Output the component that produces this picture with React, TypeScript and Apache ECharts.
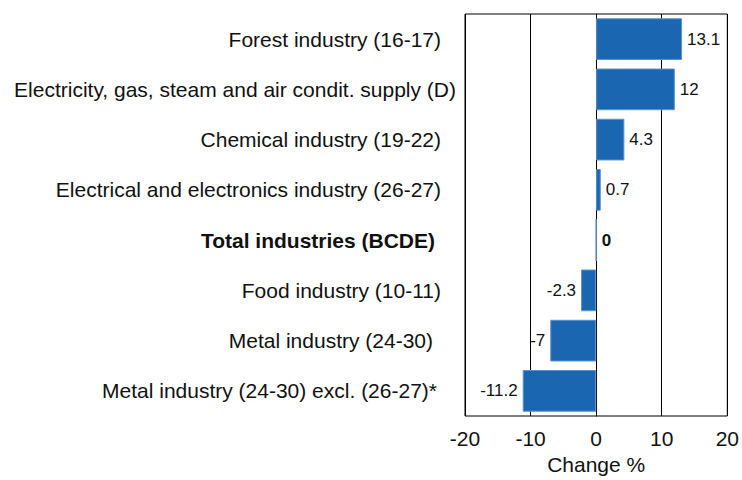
import React, { useEffect, useRef } from "react";
import * as echarts from "echarts";

const categories = [
  "Forest industry (16-17)",
  "Electricity, gas, steam and air condit. supply (D)",
  "Chemical industry (19-22)",
  "Electrical and electronics industry (26-27)",
  "Total industries (BCDE)",
  "Food industry (10-11)",
  "Metal industry (24-30)",
  "Metal industry (24-30) excl. (26-27)*",
];
const values = [13.1, 12, 4.3, 0.7, 0, -2.3, -7, -11.2];
const boldCategory = "Total industries (BCDE)";
const axisName = "Change %";

export default function App() {
  const ref = useRef<HTMLDivElement>(null);
  useEffect(() => {
    if (!ref.current) return;
    const chart = echarts.init(ref.current, undefined, { renderer: "svg" });
    const font = "'Liberation Sans', Arial, sans-serif";
    // per-label style keys (label alignment as in the original)
    const labelStyleKey = ["n", "w", "n", "n", "b", "n", "m", "s"];
    const base = { color: "#111", fontSize: 21, fontFamily: font };
    chart.setOption({
      animation: false,
      backgroundColor: "#ffffff",
      textStyle: { fontFamily: font },
      grid: { left: 465, right: 9, top: 14, bottom: 60, containLabel: false, show: true, borderColor: "#000", borderWidth: 1 },
      xAxis: {
        type: "value",
        min: -20,
        max: 20,
        interval: 10,
        axisLine: { show: false },
        axisTick: { show: false },
        splitLine: { show: true, lineStyle: { color: "#000", width: 1 } },
        axisLabel: { color: "#111", fontSize: 21, margin: 12, fontFamily: font },
        name: axisName,
        nameLocation: "middle",
        nameGap: 38,
        nameTextStyle: { color: "#111", fontSize: 21, fontFamily: font },
      },
      yAxis: {
        type: "category",
        data: categories,
        inverse: true,
        axisLine: { show: true, lineStyle: { color: "#000" } },
        axisTick: { show: false },
        axisLabel: {
          color: "#111",
          fontSize: 21,
          margin: 9,
          fontFamily: font,
          formatter: (v: string, i: number) => `{${labelStyleKey[i] || "n"}|${v}}`,
          rich: {
            n: { ...base, padding: [0, 15, 0, 0] },
            w: { ...base, padding: [0, 0, 0, 0] },
            b: { ...base, fontWeight: "bold", padding: [0, 21, 0, 0] },
            m: { ...base, padding: [0, 23, 0, 0] },
            s: { ...base, padding: [0, 19, 0, 0] },
          },
        },
      },
      series: [
        {
          type: "bar",
          barCategoryGap: "17%",
          data: values.map((v, i) => ({
            value: v,
            label: {
              show: true,
              position: v < 0 ? "left" : "right",
              distance: 5,
              fontSize: 17,
              color: "#111",
              fontFamily: font,
              fontWeight: categories[i] === boldCategory ? "bold" : "normal",
            },
          })),
          itemStyle: { color: "#1a66b0", borderColor: "#5a92cf", borderWidth: 1 },
        },
      ],
    });
    return () => chart.dispose();
  }, []);
  return <div ref={ref} style={{ width: 742, height: 480, position: "absolute", left: 0, top: 0 }} />;
}
